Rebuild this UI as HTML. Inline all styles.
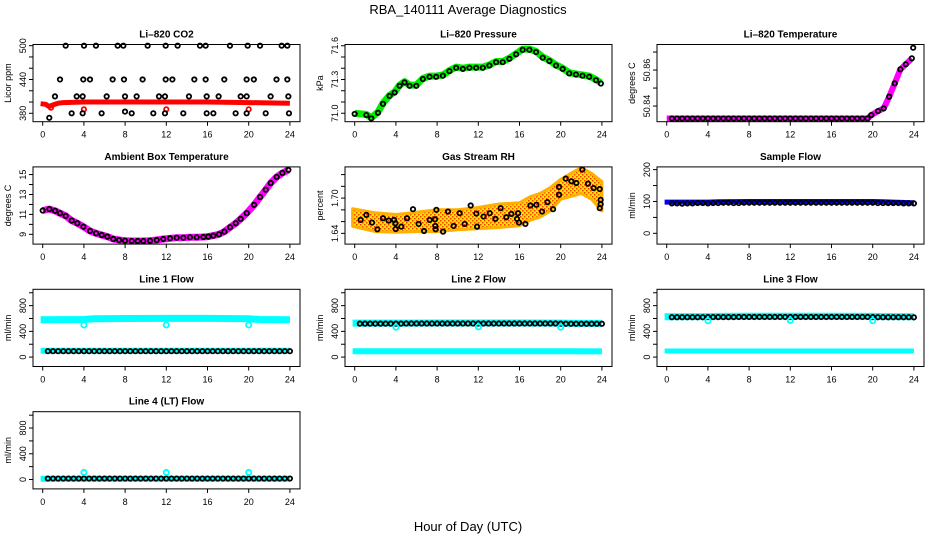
<!DOCTYPE html>
<html><head><meta charset="utf-8"><style>
html,body{margin:0;padding:0;background:#fff;}
svg{display:block;font-family:"Liberation Sans",sans-serif;}
</style></head><body>
<svg id="chart" width="936" height="540" viewBox="0 0 936 540">
<defs>
<pattern id="rhpat" width="4" height="4" patternUnits="userSpaceOnUse">
<rect width="4" height="4" fill="#ffe000"/><rect x="0" y="0" width="1.5" height="1.5" fill="#f04000"/><rect x="2" y="2" width="1.5" height="1.5" fill="#f04000"/>
</pattern>
</defs>
<text x="468" y="14" text-anchor="middle" font-size="13">RBA_140111  Average Diagnostics</text>
<text x="468" y="531" text-anchor="middle" font-size="13">Hour of Day (UTC)</text>
</svg>
<script>
// ---- data ----
const xTicks = [0,4,8,12,16,20,24];
const halfHours = [];
for (let i = 1; i <= 48; i++) halfHours.push(i * 0.5);

// CO2
const co2BlackH = [2.23,4.01,5.17,7.28,7.83,10.19,11.94,13.1,15.27,15.82,18.18,19.9,21.1,23.2,23.75,
  1.68,3.94,4.59,6.79,7.89,9.7,11.94,12.59,14.72,15.82,17.63,19.8,20.5,22.7,23.75,
  1.19,3.3,3.88,6.21,7.99,9.12,11.29,11.87,14.2,15.92,17.08,19.22,19.8,22.13,23.85,
  0.64,2.81,3.88,5.72,7.99,8.64,10.74,11.87,13.65,15.92,16.57,18.73,19.8,21.65,23.91];
const co2BlackV = [500,500,500,500,500,500,500,500,500,500,500,500,500,500,500,
  440,440,440,440,440,440,440,440,440,440,440,440,440,440,440,
  410,410,410,410,410,410,410,410,410,410,410,410,410,410,410,
  372,380,380,380,383,380,380,380,380,380,380,380,380,380,380];
const co2RedH = [-0.2,0.3,0.6,1.0,1.5,2,4,8,12,16,20,24];
const co2RedV = [397,396,392,395,398,399,400,400,400,400,399,398];
const co2RedCircH = [0.8,4,12,20];
const co2RedCircV = [390,387,387,387];

// Pressure
const presH = [0,1.13,1.61,2.26,2.75,3.39,3.88,4.36,4.84,5.33,5.98,6.62,7.27,7.91,8.56,9.2,9.85,10.5,11.14,11.79,12.44,13.08,13.73,14.37,15.02,15.67,16.31,16.96,17.6,18.25,18.9,19.54,20.19,20.83,21.48,22.12,22.77,23.42,23.9];
const presV = [71.0,70.99,70.96,71.01,71.09,71.16,71.19,71.25,71.28,71.25,71.25,71.31,71.33,71.33,71.34,71.38,71.41,71.40,71.41,71.41,71.41,71.43,71.46,71.46,71.49,71.53,71.57,71.57,71.55,71.50,71.47,71.43,71.40,71.36,71.35,71.34,71.33,71.30,71.27];

// Li-820 temperature
const tempH = [0,4,8,12,16,19.5,19.87,20.52,21.07,21.6,22.14,22.69,23.21,23.8];
const tempV = [50.8331,50.8331,50.8331,50.8331,50.8331,50.8331,50.835,50.8372,50.8387,50.8452,50.8526,50.8604,50.8632,50.8665];
const tempCircH = [0.5,1,1.5,2,2.5,3,3.5,4,4.5,5,5.5,6,6.5,7,7.5,8,8.5,9,9.5,10,10.5,11,11.5,12,12.5,13,13.5,14,14.5,15,15.5,16,16.5,17,17.5,18,18.5,19,19.5,19.87,20.52,21.07,21.6,22.14,22.69,23.21,23.8,23.93];
const tempCircV = [50.8331,50.8331,50.8331,50.8331,50.8331,50.8331,50.8331,50.8331,50.8331,50.8331,50.8331,50.8331,50.8331,50.8331,50.8331,50.8331,50.8331,50.8331,50.8331,50.8331,50.8331,50.8331,50.8331,50.8331,50.8331,50.8331,50.8331,50.8331,50.8331,50.8331,50.8331,50.8331,50.8331,50.8331,50.8331,50.8331,50.8331,50.8331,50.8331,50.835,50.8372,50.8387,50.8452,50.8526,50.8604,50.8632,50.8665,50.8724];

// Ambient box temperature
const ambH = [0,0.65,1.2,1.68,2.23,2.82,3.37,3.95,4.6,5.18,5.73,6.28,6.86,7.41,7.99,8.64,9.22,9.77,10.42,11.07,11.71,12.36,13.01,13.66,14.3,14.95,15.6,16.08,16.57,17.12,17.64,18.19,18.74,19.22,19.81,20.52,21.1,21.65,22.14,22.72,23.27,23.85];
const ambV = [11.39,11.53,11.36,11.12,10.85,10.38,10.11,9.77,9.34,9.1,8.93,8.77,8.53,8.43,8.36,8.33,8.33,8.33,8.36,8.43,8.53,8.6,8.66,8.66,8.7,8.7,8.73,8.77,8.87,9.0,9.27,9.71,10.11,10.55,11.12,11.96,12.74,13.48,14.15,14.76,15.16,15.46];

// Gas stream RH
const rhBandH = [-0.2,2,4,6,8,10,12,14,16,17,18,19,20,21,22,23,24];
const rhUpper = [1.682,1.675,1.672,1.676,1.68,1.68,1.684,1.69,1.692,1.702,1.708,1.718,1.732,1.742,1.752,1.742,1.728];
const rhLower = [1.652,1.643,1.642,1.643,1.643,1.646,1.648,1.65,1.653,1.662,1.668,1.678,1.698,1.703,1.708,1.698,1.678];
const rhH = [0.58,1.13,1.68,2.2,2.75,3.3,3.82,3.95,3.98,4.53,5.08,5.66,6.21,6.73,7.28,7.8,7.83,7.86,7.93,8.58,9.06,9.61,10.19,10.68,11.26,11.81,11.88,12.52,13.11,13.66,14.17,14.72,15.21,15.76,15.86,15.95,16.57,17.06,17.64,18.19,18.71,19.26,19.84,19.84,20.49,21.04,21.52,22.1,22.65,23.2,23.79,23.88,23.88,23.79];
const rhV = [1.6629,1.6714,1.6583,1.6469,1.6657,1.6617,1.6629,1.6571,1.6474,1.6514,1.6657,1.6811,1.656,1.644,1.6629,1.664,1.6526,1.6469,1.68,1.6429,1.6771,1.6526,1.6743,1.656,1.6874,1.6737,1.6514,1.6686,1.6743,1.6646,1.6829,1.6674,1.6731,1.6646,1.6743,1.6583,1.656,1.6874,1.6886,1.6771,1.6931,1.6811,1.7189,1.7057,1.7331,1.7286,1.7257,1.7486,1.7246,1.7171,1.7154,1.6971,1.6897,1.6829];

// Flows (band hours / values; black circles at half hours)
const bandH = [-0.2,4,5,8,12,16,20,21,24];
const sampleBand = [98,98,99,100,100,100,100,99,96];
const sampleBlack = [94,94,93,94,94,95,95,94,95,95,96,96,95,95,96,96,96,96,96,96,96,96,96,96,96,96,96,96,96,96,96,96,96,96,96,96,96,96,96,96,95,95,95,95,95,94,94,94];
const line1Up = [580,585,595,600,602,602,595,585,580];
const line1Low = [98,98,98,98,98,98,98,98,98];
const line1Black = [92,92,92,92,92,92,92,92,92,92,92,92,92,92,92,92,92,92,92,92,92,92,92,92,92,92,92,92,92,92,92,92,92,92,92,92,92,92,92,92,92,92,92,92,92,92,92,92];
const line2Up = [528,528,528,530,530,530,528,526,524];
const line2Low = [90,90,90,90,90,90,90,90,88];
const line2Black = [520,520,520,520,520,520,520,520,520,522,522,522,522,522,522,522,522,522,522,522,522,522,522,522,522,522,522,522,522,522,522,522,522,522,522,522,522,522,522,520,518,518,518,518,518,518,518,518];
const line3Up = [628,630,632,634,634,634,632,630,628];
const line3Low = [95,95,95,95,95,95,95,95,95];
const line3Black = [620,620,620,620,620,620,620,622,622,622,622,622,622,624,624,624,624,624,624,624,624,624,624,624,624,624,624,624,624,624,624,624,624,624,624,624,624,624,624,622,620,620,620,620,620,620,620,618];
const line4Band = [12,12,12,12,12,12,12,12,12];
const line4Black = [15,15,15,15,15,15,15,15,15,15,15,15,15,15,15,15,15,15,15,15,15,15,15,15,15,15,15,15,15,15,15,15,15,15,15,15,15,15,15,15,15,15,15,15,15,15,15,15];
const dipH = [4,12,20];
const line1Dip = [500,500,500];
const line2Dip = [465,470,465];
const line3Dip = [565,570,565];
const line4Dip = [110,110,110];

// ---- drawing ----
const svg = document.getElementById('chart');
const NS = 'http://www.w3.org/2000/svg';
function mk(tag, attrs, parent) {
  const e = document.createElementNS(NS, tag);
  for (const k in attrs) e.setAttribute(k, attrs[k]);
  (parent || svg).appendChild(e);
  return e;
}
function makePanel(col, row, title, ylab, dom, ticks, labels, slug) {
  const left = 33 + col * 312, right = 300 + col * 312;
  const top = 44.5 + row * 122.4, bottom = top + 77.2;
  const g = mk('g', {});
  
  
  const xs = h => left + 9.7 + h * 10.3;
  const ys = v => bottom - (v - dom[0]) / (dom[1] - dom[0]) * (bottom - top);
  const t = mk('text', {x: (left + right) / 2, y: top - 7, 'text-anchor': 'middle', 'font-size': 10, 'font-weight': 'bold'}, g);
  t.textContent = title;
  
  
  const yl = mk('text', {transform: `translate(${left - 22},${(top + bottom) / 2}) rotate(-90)`, 'text-anchor': 'middle', 'font-size': 9}, g);
  yl.textContent = ylab;
  
  
  ticks.forEach(v => {
    const y = ys(v);
    const tk = mk('line', {x1: left - 4, x2: left, y1: y, y2: y, stroke: '#000', 'stroke-width': 1}, g);
    
    
  });
  labels.forEach(v => {
    const y = ys(v);
    const lb = mk('text', {transform: `translate(${left - 7},${y}) rotate(-90)`, 'text-anchor': 'middle', 'font-size': 9}, g);
    lb.textContent = String(v);
    
    
  });
  xTicks.forEach(h => {
    const x = xs(h);
    const tk = mk('line', {x1: x, x2: x, y1: bottom, y2: bottom + 4, stroke: '#000', 'stroke-width': 1}, g);
    
    
    const lb = mk('text', {x: x, y: bottom + 16, 'text-anchor': 'middle', 'font-size': 9}, g);
    lb.textContent = String(h);
    
    
  });
  const plot = mk('g', {}, g);
  
  
  const box = mk('rect', {x: left, y: top, width: right - left, height: bottom - top, fill: 'none', stroke: '#000', 'stroke-width': 1}, g);
  
  
  return {xs, ys, g: plot};
}
function band(p, H, V, color, w, name) {
  const pts = H.map((h, i) => p.xs(h).toFixed(1) + ',' + p.ys(V[i]).toFixed(1)).join(' ');
  const e = mk('polyline', {points: pts, fill: 'none', stroke: color, 'stroke-width': w, 'stroke-linejoin': 'round', 'stroke-linecap': 'butt'}, p.g);
  
  
}
function circles(p, H, V, color, name, r, sw) {
  H.forEach((h, i) => {
    const c = mk('circle', {cx: p.xs(h), cy: p.ys(V[i]), r: r || 2.2, fill: 'none', stroke: color, 'stroke-width': sw || 1.8}, p.g);
    
    
  });
}

// CO2
let p = makePanel(0, 0, 'Li\u2013820 CO2', 'Licor ppm', [365.1, 502.1], [380,400,420,440,460,480,500], [380,440,500], 'co2');
band(p, co2RedH, co2RedV, '#ff0000', 5, 'co2-red-series');
circles(p, co2RedCircH, co2RedCircV, '#ff0000', 'co2-red-point');
circles(p, co2BlackH, co2BlackV, '#000', 'co2-black-point');

// Pressure
p = makePanel(1, 0, 'Li\u2013820 Pressure', 'kPa', [70.925, 71.611], [71.0,71.1,71.2,71.3,71.4,71.5,71.6], ['71.0','71.3','71.6'], 'pressure');
band(p, presH, presV, '#00ee00', 7, 'pressure-green-series');
circles(p, presH, presV.map(v => v - 0.006), '#000', 'pressure-black-point');

// Li-820 temp
p = makePanel(2, 0, 'Li\u2013820 Temperature', 'degrees C', [50.8313, 50.8742], [50.84,50.85,50.86,50.87], ['50.84','50.86'], 'li820-temp');
band(p, tempH, tempV, '#ff00ff', 6, 'li820-temp-magenta-series');
circles(p, tempCircH, tempCircV, '#000', 'li820-temp-black-point');

// Ambient
p = makePanel(0, 1, 'Ambient Box Temperature', 'degrees C', [8.02, 15.77], [9,10,11,12,13,14,15], [9,11,13,15], 'ambient');
band(p, ambH, ambV, '#ff00ff', 7, 'ambient-magenta-series');
circles(p, ambH, ambV, '#000', 'ambient-black-point');

// RH
p = makePanel(1, 1, 'Gas Stream RH', 'percent', [1.6217, 1.7531], [1.64,1.66,1.68,1.70,1.72,1.74], ['1.64','1.70'], 'rh');
(function () {
  const up = rhBandH.map((h, i) => p.xs(h).toFixed(1) + ',' + p.ys(rhUpper[i]).toFixed(1));
  const lo = rhBandH.map((h, i) => p.xs(h).toFixed(1) + ',' + p.ys(rhLower[i]).toFixed(1)).reverse();
  const e = mk('polygon', {points: up.concat(lo).join(' '), fill: 'url(#rhpat)', stroke: '#ffb000', 'stroke-width': 3, 'stroke-linejoin': 'round'}, p.g);
  
  
})();
circles(p, rhH, rhV, '#000', 'rh-black-point');

// Sample flow
p = makePanel(2, 1, 'Sample Flow', 'ml/min', [-33.8, 208.5], [0,50,100,150,200], [0,100,200], 'sample-flow');
band(p, bandH, sampleBand, '#0000ee', 5, 'sample-flow-blue-series');
circles(p, halfHours, sampleBlack, '#000', 'sample-flow-black-point');

const fdom = [-146, 1054], fticks = [0,200,400,600,800,1000], flabs = [0,400,800];
// Line 1
p = makePanel(0, 2, 'Line 1 Flow', 'ml/min', fdom, fticks, flabs, 'line1-flow');
band(p, bandH, line1Up, '#00ffff', 7, 'line1-cyan-upper');
band(p, bandH, line1Low, '#00ffff', 6, 'line1-cyan-lower');
circles(p, halfHours, line1Black, '#000', 'line1-black-point');
circles(p, dipH, line1Dip, '#00ffff', 'line1-cyan-point', 2.6, 1.8);
// Line 2
p = makePanel(1, 2, 'Line 2 Flow', 'ml/min', fdom, fticks, flabs, 'line2-flow');
band(p, bandH, line2Up, '#00ffff', 7, 'line2-cyan-upper');
band(p, bandH, line2Low, '#00ffff', 6, 'line2-cyan-lower');
circles(p, halfHours, line2Black, '#000', 'line2-black-point');
circles(p, dipH, line2Dip, '#00ffff', 'line2-cyan-point', 2.6, 1.8);
// Line 3
p = makePanel(2, 2, 'Line 3 Flow', 'ml/min', fdom, fticks, flabs, 'line3-flow');
band(p, bandH, line3Up, '#00ffff', 7, 'line3-cyan-upper');
band(p, bandH, line3Low, '#00ffff', 5, 'line3-cyan-lower');
circles(p, halfHours, line3Black, '#000', 'line3-black-point');
circles(p, dipH, line3Dip, '#00ffff', 'line3-cyan-point', 2.6, 1.8);
// Line 4
p = makePanel(0, 3, 'Line 4 (LT) Flow', 'ml/min', fdom, fticks, flabs, 'line4-flow');
band(p, bandH, line4Band, '#00ffff', 6, 'line4-cyan-series');
circles(p, halfHours, line4Black, '#000', 'line4-black-point');
circles(p, dipH, line4Dip, '#00ffff', 'line4-cyan-point', 2.6, 1.8);
</script>
</body></html>
